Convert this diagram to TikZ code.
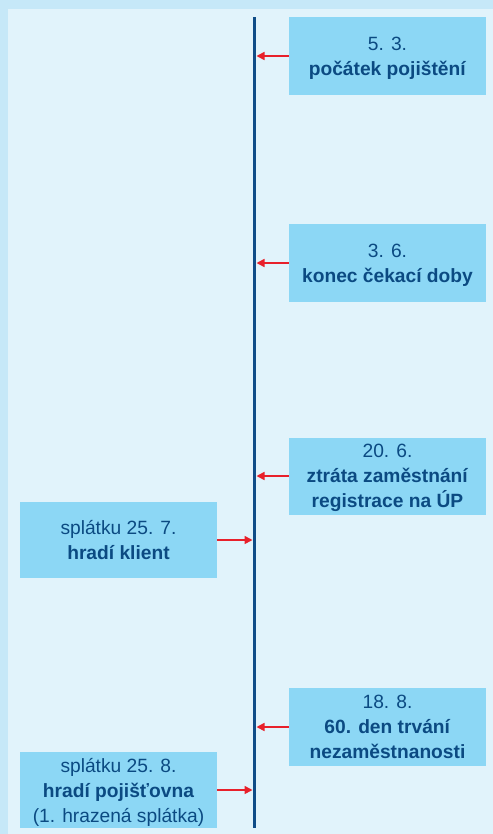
\documentclass[tikz,border=0pt]{standalone}
\usepackage{fontspec}
\setmainfont{Liberation Sans}
\usetikzlibrary{arrows.meta}
\definecolor{outerbg}{HTML}{C6E8F8}
\definecolor{innerbg}{HTML}{E1F3FB}
\definecolor{boxfill}{HTML}{8CD7F5}
\definecolor{txtblue}{HTML}{0B4A82}
\definecolor{lineblue}{HTML}{0F4C87}
\definecolor{arrred}{HTML}{E8202A}
\tikzset{
  evbox/.style={fill=boxfill, text=txtblue, inner sep=0pt, minimum width=197bp,
    align=center, text depth=0pt, font=\fontsize{19.2bp}{25bp}\selectfont},
  arr/.style={draw=arrred, line width=1.6bp, -{Triangle[length=8bp,width=8bp]}},
  timeline/.style={draw=lineblue, line width=3.5bp}
}
\begin{document}
\begin{tikzpicture}[x=1bp,y=-1bp]
\useasboundingbox (0,0) rectangle (493,834);
\fill[outerbg] (0,0) rectangle (493,834);
\fill[innerbg] (8,9) rectangle (493,834);
\coordinate (ltop) at (254.5,17);
\coordinate (lbot) at (254.5,828);
\draw[timeline] (ltop) -- (lbot);
\node[evbox, minimum height=77bp] (b1) at (387.5,56) {5. 3.\\\textbf{počátek pojištění}};
\node[evbox, minimum height=78bp] (b2) at (387.5,263) {3. 6.\\\textbf{konec čekací doby}};
\node[evbox, minimum height=77bp] (b3) at (387.5,476) {20. 6.\\\textbf{ztráta zaměstnání}\\\textbf{registrace na ÚP}};
\node[evbox, minimum height=78bp] (b4) at (387.5,727) {18. 8.\\\textbf{60. den trvání}\\\textbf{nezaměstnanosti}};
\node[evbox, minimum height=76bp] (b5) at (118.5,540) {splátku 25. 7.\\\textbf{hradí klient}};
\node[evbox, minimum height=76bp] (b6) at (118.5,790) {splátku 25. 8.\\\textbf{hradí pojišťovna}\\(1. hrazená splátka)};
\foreach \b in {b1,b2,b3,b4}{
  \draw[arr] (\b.west) -- ([xshift=2bp]\b.west -| ltop);
}
\foreach \b in {b5,b6}{
  \draw[arr] (\b.east) -- ([xshift=-2bp]\b.east -| ltop);
}
\end{tikzpicture}
\end{document}
